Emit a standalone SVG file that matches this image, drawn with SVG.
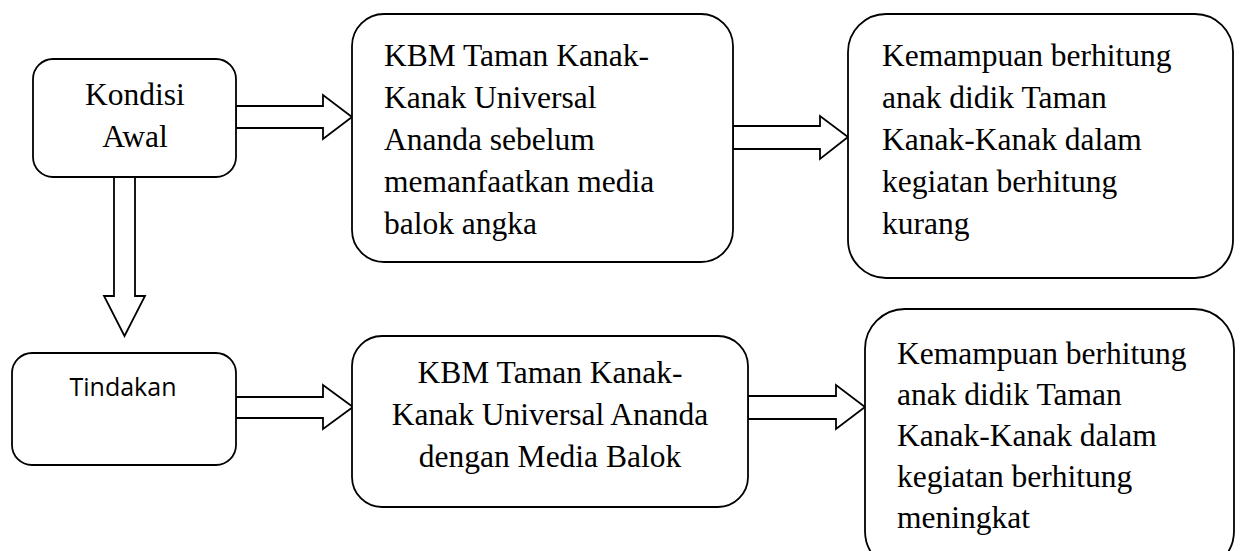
<svg xmlns="http://www.w3.org/2000/svg" width="1240" height="551" viewBox="0 0 1240 551">
<style>
.box{fill:#fff;stroke:#000;stroke-width:1.8}
.arr{fill:#fff;stroke:#000;stroke-width:1.8;stroke-linejoin:miter}
.t{font-family:"Liberation Serif","Times New Roman",serif;font-size:31.5px;fill:#000}
.c{text-anchor:middle}
.s{font-family:"Open Sans","Liberation Sans",sans-serif;font-size:25px;fill:#000;text-anchor:middle}
</style>
<rect width="1240" height="551" fill="#fff"/>
<g id="connectors">
<polygon class="arr" points="236,106 323,106 323,95 352,117 323,139 323,128 236,128"/>
<polygon class="arr" points="733,126 820,126 820,116 848,137 820,159 820,149 733,149"/>
<polygon class="arr" points="114,177 135,177 135,296 145,296 124.5,336 104,296 114,296"/>
<polygon class="arr" points="236,397 323,397 323,385 353,407 323,429 323,418 236,418"/>
<polygon class="arr" points="748,396 836,396 836,385 865,407 836,429 836,419 748,419"/>
</g>
<g id="kondisi-awal">
<rect class="box" x="33" y="59" width="203" height="118" rx="20"/>
<text class="t c" x="135" y="105">Kondisi</text>
<text class="t c" x="135" y="147">Awal</text>
</g>
<g id="kbm-sebelum">
<rect class="box" x="352" y="14" width="381" height="248" rx="32"/>
<text class="t" x="384" y="66">KBM Taman Kanak-</text>
<text class="t" x="384" y="108">Kanak Universal</text>
<text class="t" x="384" y="150">Ananda sebelum</text>
<text class="t" x="384" y="192">memanfaatkan media</text>
<text class="t" x="384" y="234">balok angka</text>
</g>
<g id="kemampuan-kurang">
<rect class="box" x="848" y="14" width="385" height="264" rx="38"/>
<text class="t" x="882" y="66">Kemampuan berhitung</text>
<text class="t" x="882" y="108">anak didik Taman</text>
<text class="t" x="882" y="150">Kanak-Kanak dalam</text>
<text class="t" x="882" y="192">kegiatan berhitung</text>
<text class="t" x="882" y="234">kurang</text>
</g>
<g id="tindakan">
<rect class="box" x="12" y="353" width="224" height="112" rx="20"/>
<text class="s" x="123" y="396">Tindakan</text>
</g>
<g id="kbm-dengan-media">
<rect class="box" x="352" y="336" width="396" height="171" rx="30"/>
<text class="t c" x="550" y="383">KBM Taman Kanak-</text>
<text class="t c" x="550" y="425">Kanak Universal Ananda</text>
<text class="t c" x="550" y="467">dengan Media Balok</text>
</g>
<g id="kemampuan-meningkat">
<rect class="box" x="865" y="309" width="369" height="262" rx="40"/>
<text class="t" x="897" y="364">Kemampuan berhitung</text>
<text class="t" x="897" y="405">anak didik Taman</text>
<text class="t" x="897" y="446">Kanak-Kanak dalam</text>
<text class="t" x="897" y="487">kegiatan berhitung</text>
<text class="t" x="897" y="528">meningkat</text>
</g>
</svg>
